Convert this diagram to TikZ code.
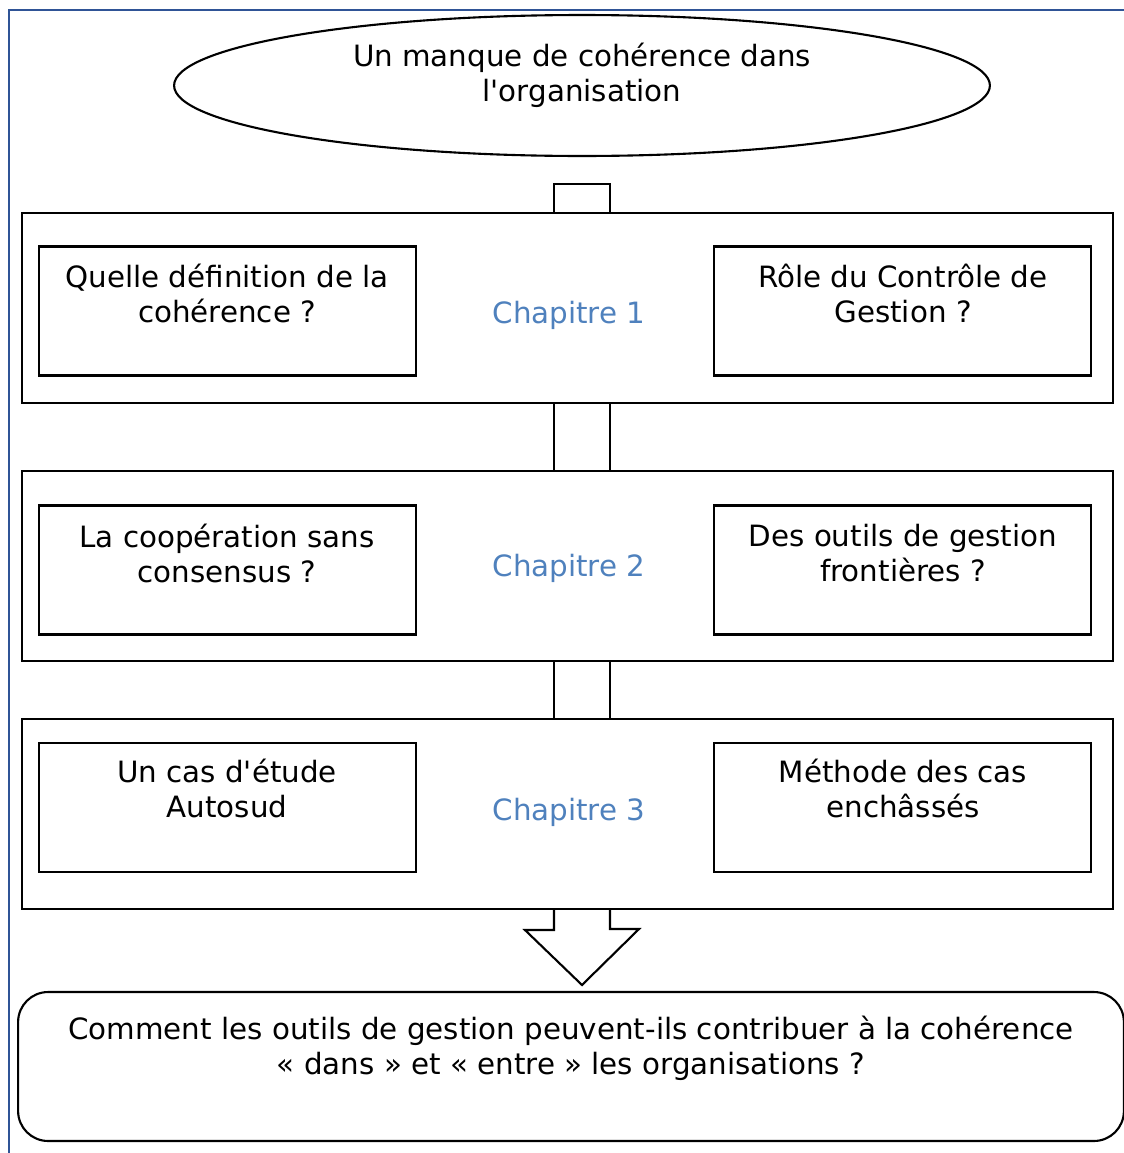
\documentclass[tikz,border=0pt]{standalone}
\usepackage{fontspec}
\setmainfont{DejaVu Sans}
\usetikzlibrary{shapes.geometric}
\definecolor{chapblue}{RGB}{79,129,189}
\definecolor{frameblue}{RGB}{47,84,150}

\tikzset{
    chapbox/.style={draw, line width=1.2pt, minimum width=21.82cm, minimum height=3.8cm},
    qbox/.style={draw, line width=1.2pt, minimum width=7.54cm, minimum height=2.58cm},
    txt/.style={align=center, inner sep=0pt, font=\fontsize{16.7}{19.9}\selectfont},
    chaptxt/.style={txt, text=chapblue},
    conn/.style={draw, line width=1.2pt, line join=miter},
}

\begin{document}
\begin{tikzpicture}[x=0.02cm, y=-0.02cm]
\useasboundingbox (0,0) rectangle (1124,1153);
\draw[frameblue, line width=1.6pt] (9,1153) -- (9,10) -- (1124,10);

% problematique
\node[draw, ellipse, line width=1.2pt, minimum width=16.32cm, minimum height=2.82cm] (probl) at (582,85.5) {};
\node[txt] (probltxt) at (582,75.5) {Un manque de cohérence dans\\l\textquotesingle organisation};

% chapitres
\node[chapbox] (ch1) at (567.5,308) {};
\node[chapbox] (ch2) at (567.5,566) {};
\node[chapbox] (ch3) at (567.5,814) {};

\node[qbox] (q1a) at (227.5,311) {};
\node[qbox] (q1b) at (902.5,311) {};
\node[qbox] (q2a) at (227.5,570) {};
\node[qbox] (q2b) at (902.5,570) {};
\node[qbox] (q3a) at (227.5,807.5) {};
\node[qbox] (q3b) at (902.5,807.5) {};

\node[txt] (t1a) at (227,293.5) {Quelle définition de la\\cohérence ?};
\node[txt] (t1b) at (903,293.5) {Rôle du Contrôle de\\Gestion ?};
\node[txt] (t2a) at (227,553.5) {La coopération sans\\consensus ?};
\node[txt] (t2b) at (903,553.5) {Des outils de gestion\\frontières ?};
\node[txt] (t3a) at (227,788.5) {Un cas d\textquotesingle étude\\Autosud};
\node[txt] (t3b) at (903,788.5) {Méthode des cas\\enchâssés};

\node[chaptxt] (c1) at (569,315) {Chapitre 1};
\node[chaptxt] (c2) at (569,568) {Chapitre 2};
\node[chaptxt] (c3) at (569,812) {Chapitre 3};

% conclusion
\node[draw, line width=1.2pt, rounded corners=0.6cm, minimum width=22.12cm, minimum height=2.98cm] (concl) at (571,1066.5) {};
\node[txt] (concltxt) at (571,1048) {Comment les outils de gestion peuvent-ils contribuer à la cohérence\\« dans » et « entre » les organisations ?};

% liaisons
\coordinate (axl) at (554,0);
\coordinate (axr) at (610,0);
\coordinate (tip) at (582,985);
\draw[conn] (axl |- ch1.north) -- (554,184) -- (610,184) -- (axr |- ch1.north);
\draw[conn] (axl |- ch1.south) -- (axl |- ch2.north);
\draw[conn] (axr |- ch1.south) -- (axr |- ch2.north);
\draw[conn] (axl |- ch2.south) -- (axl |- ch3.north);
\draw[conn] (axr |- ch2.south) -- (axr |- ch3.north);
\draw[conn] (axl |- ch3.south) -- ++(0,20) -- ++(-29,0) -- (tip) -- (639,929) -- ++(-29,0) -- (axr |- ch3.south);
\end{tikzpicture}
\end{document}
